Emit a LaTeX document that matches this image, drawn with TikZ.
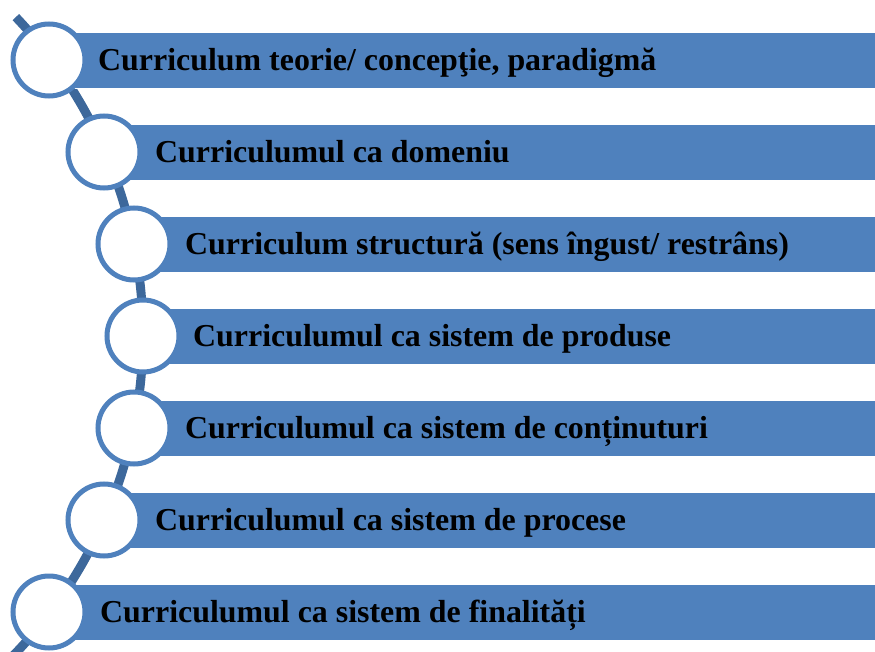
\documentclass[tikz,border=0pt]{standalone}
\usepackage{fontspec}
\setmainfont{Liberation Serif}
\definecolor{barblue}{RGB}{79,129,189}
\definecolor{arcblue}{RGB}{61,104,155}
\begin{document}
\begin{tikzpicture}[x=1pt,y=1pt,
  barbox/.style={fill=barblue, draw=white, line width=0.8pt, inner sep=0pt, minimum height=56pt, anchor=west},
  ring/.style={circle, fill=white, draw=barblue, line width=5pt, minimum size=72pt, inner sep=0pt},
  lbl/.style={anchor=base west, inner sep=0pt, font=\fontsize{31.9}{38}\selectfont\bfseries}]
\useasboundingbox (0,0) rectangle (875,-652);
\begin{scope}
\clip (0,0) rectangle (875,-652);
\coordinate (arcc) at (-318,-335);
\draw[arcblue, line width=9pt] (arcc) ++(43.6:461) arc[start angle=43.6, end angle=-47, radius=461];
\end{scope}
% bars
\node[barbox, minimum width=826pt] (b1) at (49,-60) {};
\node[barbox, minimum width=771pt] (b2) at (104,-152) {};
\node[barbox, minimum width=741pt] (b3) at (134,-244) {};
\node[barbox, minimum width=732pt] (b4) at (143,-336) {};
\node[barbox, minimum width=741pt] (b5) at (134,-428) {};
\node[barbox, minimum width=771pt] (b6) at (104,-520) {};
\node[barbox, minimum width=826pt] (b7) at (49,-612) {};
% rings
\node[ring] (c1) at (49,-60) {};
\node[ring] (c2) at (104,-152) {};
\node[ring] (c3) at (134,-244) {};
\node[ring] (c4) at (143,-336) {};
\node[ring] (c5) at (134,-428) {};
\node[ring] (c6) at (104,-520) {};
\node[ring] (c7) at (49,-612) {};
% labels
\node[lbl] (t1) at (98,-70.5) {Curriculum teorie/ concepţie, paradigmă};
\node[lbl] (t2) at (155,-162.5) {Curriculumul ca domeniu};
\node[lbl] (t3) at (185,-254.5) {Curriculum structură (sens îngust/ restrâns)};
\node[lbl] (t4) at (193,-346.5) {Curriculumul ca sistem de produse};
\node[lbl] (t5) at (185,-438.5) {Curriculumul ca sistem de conținuturi};
\node[lbl] (t6) at (155,-530.5) {Curriculumul ca sistem de procese};
\node[lbl] (t7) at (100,-622.5) {Curriculumul ca sistem de finalități};
\end{tikzpicture}
\end{document}
